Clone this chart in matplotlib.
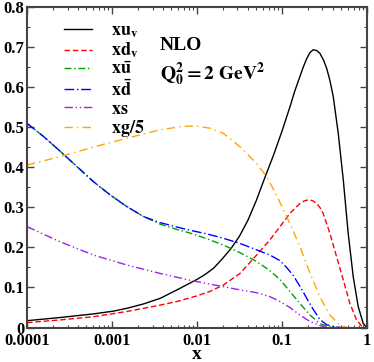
import numpy as np
import matplotlib
matplotlib.use('Agg')
import matplotlib.pyplot as plt
from matplotlib.ticker import FixedLocator, FuncFormatter, MultipleLocator

plt.rcParams['font.family'] = 'Liberation Serif'
plt.rcParams['font.weight'] = 'bold'
plt.rcParams['mathtext.fontset'] = 'stix'

# log10(x) positions and values
xuv_lx = [-4, -3.608, -3.216, -2.98, -2.824, -2.627, -2.431, -2.235, -2.082, -2.0, -1.9, -1.8,
          -1.7, -1.6, -1.5, -1.4, -1.3, -1.2, -1.1, -1.0, -0.9, -0.85, -0.8, -0.75, -0.71,
          -0.67, -0.631, -0.59, -0.553, -0.51, -0.474, -0.435, -0.396, -0.337, -0.278, -0.22,
          -0.161, -0.102, -0.043, 0]
xuv_y = [0.017, 0.025, 0.034, 0.041, 0.048, 0.059, 0.073, 0.094, 0.111, 0.12, 0.133, 0.149,
         0.172, 0.197, 0.228, 0.268, 0.318, 0.375, 0.43, 0.49, 0.555, 0.59, 0.62, 0.65, 0.671,
         0.687, 0.694, 0.692, 0.685, 0.668, 0.648, 0.617, 0.577, 0.485, 0.369, 0.235,
         0.127, 0.052, 0.01, 0]

xdv_lx = [-4, -3.608, -3.216, -2.824, -2.431, -2.235, -2.0, -1.85, -1.69, -1.494, -1.298, -1.141,
          -1.023, -0.906, -0.788, -0.74, -0.69, -0.64, -0.592, -0.55, -0.514, -0.435, -0.357,
          -0.278, -0.2, -0.122, -0.063, 0]
xdv_y = [0.012, 0.019, 0.027, 0.04, 0.056, 0.065, 0.079, 0.09, 0.106, 0.135, 0.181, 0.219,
         0.252, 0.285, 0.31, 0.316, 0.319, 0.317, 0.31, 0.299, 0.285, 0.235, 0.177,
         0.119, 0.06, 0.019, 0.004, 0]

ubar_lx = [-4, -3.804, -3.608, -3.412, -3.216, -3.02, -2.824, -2.627, -2.431, -2.235, -2.082,
           -1.886, -1.69, -1.494, -1.298, -1.141, -1.023, -0.906, -0.788, -0.67, -0.553,
           -0.455, -0.37]
ubar_y = [0.51, 0.477, 0.44, 0.402, 0.364, 0.331, 0.302, 0.277, 0.258, 0.245, 0.236,
          0.222, 0.206, 0.187, 0.165, 0.142, 0.12, 0.09, 0.06, 0.031, 0.01,
          0.002, 0]

dbar_lx = [-4, -3.804, -3.608, -3.412, -3.216, -3.02, -2.824, -2.627, -2.431, -2.235, -2.082,
           -1.886, -1.69, -1.494, -1.298, -1.141, -1.023, -0.945, -0.867, -0.788, -0.7,
           -0.631, -0.553, -0.474, -0.396, -0.3]
dbar_y = [0.51, 0.477, 0.44, 0.402, 0.364, 0.331, 0.302, 0.277, 0.262, 0.251, 0.243,
          0.234, 0.223, 0.21, 0.194, 0.181, 0.167, 0.15, 0.13, 0.103, 0.07,
          0.045, 0.02, 0.007, 0.002, 0]

xs_lx = [-4, -3.608, -3.216, -2.824, -2.431, -2.082, -1.886, -1.69, -1.494, -1.298, -1.141,
         -1.023, -0.906, -0.788, -0.67, -0.553, -0.474]
xs_y = [0.252, 0.214, 0.181, 0.156, 0.135, 0.118, 0.11, 0.102, 0.094, 0.087, 0.077,
        0.065, 0.05, 0.031, 0.015, 0.005, 0]

xg_lx = [-4, -3.608, -3.216, -2.824, -2.431, -2.157, -2.0, -1.847, -1.69, -1.494, -1.298,
         -1.18, -1.062, -0.945, -0.906, -0.788, -0.67, -0.553, -0.435, -0.318, -0.239]
xg_y = [0.406, 0.427, 0.451, 0.473, 0.494, 0.503, 0.503, 0.498, 0.485, 0.452, 0.41,
        0.377, 0.33, 0.277, 0.26, 0.202, 0.136, 0.077, 0.031, 0.006, 0]

fig = plt.figure(figsize=(3.74, 3.62), dpi=100)
ax = fig.add_axes([0.0722, 0.0953, 0.9088, 0.8845])

lw = 1.0
ax.plot(10 ** np.array(xuv_lx), xuv_y, color='black', lw=lw, label=r'$\mathbf{xu}_\mathbf{v}$')
ax.plot(10 ** np.array(xdv_lx), xdv_y, color='red', lw=lw, dashes=(4, 2), label=r'$\mathbf{xd}_\mathbf{v}$')
ax.plot(10 ** np.array(ubar_lx), ubar_y, color='#00a000', lw=lw, dashes=(5, 2, 1, 2), label=r'$\mathbf{x\bar{u}}$')
ax.plot(10 ** np.array(dbar_lx), dbar_y, color='blue', lw=lw, dashes=(7, 2, 1, 2), label=r'$\mathbf{x\bar{d}}$')
ax.plot(10 ** np.array(xs_lx), xs_y, color='#a020f0', lw=lw, dashes=(6, 2, 1, 2, 1, 2), label=r'$\mathbf{xs}$')
ax.plot(10 ** np.array(xg_lx), xg_y, color='orange', lw=lw, dashes=(6, 3, 1, 3), label=r'$\mathbf{xg/5}$')

ax.set_xscale('log')
ax.set_xlim(1e-4, 1)
ax.set_ylim(0, 0.8)

ax.xaxis.set_major_locator(FixedLocator([1e-4, 1e-3, 1e-2, 1e-1, 1]))
ax.xaxis.set_major_formatter(FuncFormatter(lambda v, p: {1e-4: '0.0001', 1e-3: '0.001', 1e-2: '0.01',
                                                        1e-1: '0.1', 1: '1'}.get(v, '')))
ax.yaxis.set_major_locator(MultipleLocator(0.1))
ax.yaxis.set_minor_locator(MultipleLocator(0.05))
ax.yaxis.set_major_formatter(FuncFormatter(lambda v, p: '0' if abs(v) < 1e-9 else f'{v:.1f}'))

ax.tick_params(which='both', direction='in', top=True, right=True, color='#444444',
               labelsize=12)
ax.tick_params(which='major', length=5, width=1)
ax.tick_params(which='minor', length=2.5, width=0.8)
ax.tick_params(axis='x', pad=4)
ax.tick_params(axis='y', pad=2)
for s in ax.spines.values():
    s.set_linewidth(1.5)
    s.set_color('#444444')

ax.set_xlabel('x', fontsize=14, fontweight='bold', labelpad=-2)

leg = ax.legend(loc='upper left', bbox_to_anchor=(0.089, 0.975), frameon=False, fontsize=13,
                handlelength=1.5, handletextpad=1.1, labelspacing=0.05, borderaxespad=0)

ax.text(0.39, 0.867, 'NLO', transform=ax.transAxes, fontsize=14, fontweight='bold')
ax.text(0.39, 0.773, r'$\mathbf{Q}_\mathbf{0}^\mathbf{2}\mathbf{=2\ GeV}^\mathbf{2}$',
        transform=ax.transAxes, fontsize=14)

fig.savefig('out.png', dpi=100)
